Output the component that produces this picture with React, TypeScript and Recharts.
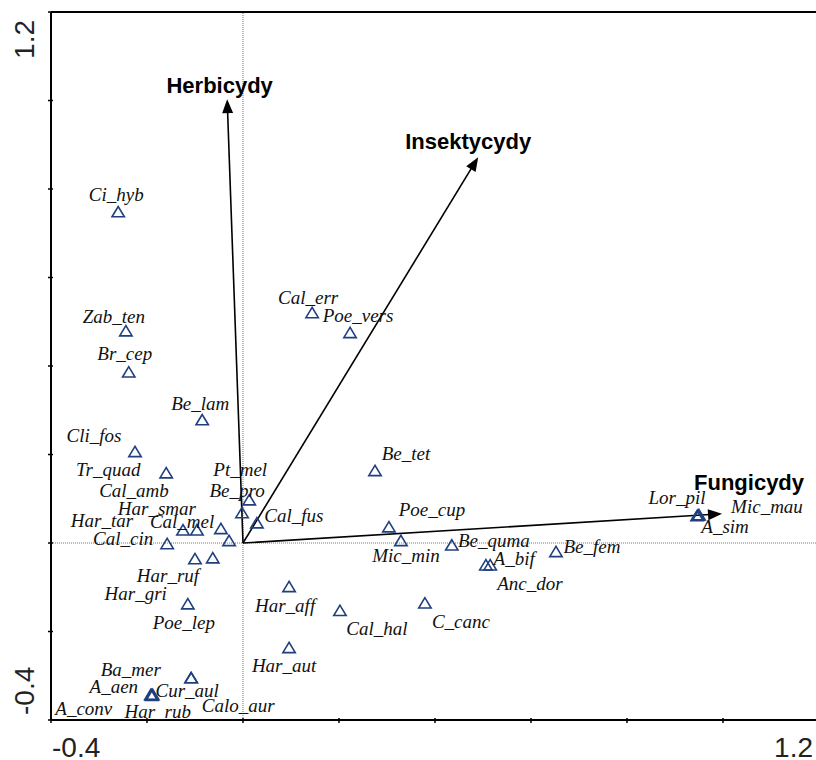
import React from 'react';
import { ScatterChart, Scatter, XAxis, YAxis, ReferenceLine } from 'recharts';

// ---- data ----
const speciesNames = [
  'Ci_hyb', 'Zab_ten', 'Br_cep', 'Be_lam', 'Cli_fos', 'Tr_quad', 'Pt_mel', 'Be_pro', 'Cal_fus',
  'Cal_amb', 'Har_tar', 'Har_smar', 'Cal_mel', 'Cal_cin', 'Har_ruf', 'Har_gri', 'Poe_lep',
  'Cal_err', 'Poe_vers', 'Be_tet', 'Poe_cup', 'Mic_min', 'Be_quma', 'A_bif', 'Anc_dor', 'Be_fem',
  'Lor_pil', 'Mic_mau', 'A_sim', 'Har_aff', 'Har_aut', 'Cal_hal', 'C_canc',
  'Cur_aul', 'Calo_aur', 'Ba_mer', 'A_aen', 'A_conv', 'Har_rub',
];
const speciesX = [
  -0.260, -0.244, -0.238, -0.085, -0.225, -0.160, 0.013, -0.002, 0.029,
  -0.125, -0.096, -0.046, -0.029, -0.158, -0.100, -0.063, -0.115,
  0.144, 0.223, 0.275, 0.304, 0.329, 0.435, 0.515, 0.506, 0.652,
  0.948, 0.950, 0.946, 0.096, 0.096, 0.202, 0.379,
  -0.108, -0.108, -0.190, -0.192, -0.190, -0.188,
];
const speciesY = [
  0.748, 0.479, 0.386, 0.278, 0.206, 0.158, 0.097, 0.068, 0.045,
  0.029, 0.029, 0.032, 0.005, -0.002, -0.036, -0.034, -0.138,
  0.520, 0.475, 0.163, 0.036, 0.005, -0.005, -0.050, -0.050, -0.020,
  0.063, 0.063, 0.061, -0.099, -0.237, -0.153, -0.136,
  -0.305, -0.305, -0.343, -0.343, -0.345, -0.343,
];

const envNames = ['Herbicydy', 'Insektycydy', 'Fungicydy'];
const envX = [-0.033, 0.49, 0.998];
const envY = [1.003, 0.872, 0.066];

const axisTicks = [-0.4, -0.2, 0, 0.2, 0.4, 0.6, 0.8, 1.0, 1.2];
const labelledTickValues = [-0.4, 1.2];
const labelledTickTexts = ['-0.4', '1.2'];

// ---- layout (label offsets in px, relative to the point) ----
const speciesLabelOffsets: Record<string, [number, number]> = {
  Ci_hyb: [-2, -11], Zab_ten: [-12, -8], Br_cep: [-4, -12], Be_lam: [-2, -10],
  Cli_fos: [-41, -10], Tr_quad: [-58, 3], Pt_mel: [-9, -24], Be_pro: [-5, -16],
  Cal_fus: [37, -1], Cal_amb: [-49, -33], Har_tar: [-95, -3], Har_smar: [-64, -14],
  Cal_mel: [-47, -13], Cal_cin: [-44, 1], Har_ruf: [-27, 23], Har_gri: [-77, 42],
  Poe_lep: [-4, 25], Cal_err: [-4, -9], Poe_vers: [8, -11], Be_tet: [31, -11],
  Poe_cup: [43, -11], Mic_min: [5, 21], Be_quma: [42, 2], A_bif: [24, 0],
  Anc_dor: [44, 25], Be_fem: [36, 1], Lor_pil: [-21, -11], Mic_mau: [68, -2],
  A_sim: [28, 17], Har_aff: [-4, 25], Har_aut: [-5, 24], Cal_hal: [37, 24],
  C_canc: [36, 25], Cur_aul: [-4, 19], Calo_aur: [47, 34], Ba_mer: [-21, -19],
  A_aen: [-37, -2], A_conv: [-68, 19], Har_rub: [5, 23],
};
const envLabelOffsets: [number, number][] = [[-7.5, -6], [-10, -8], [27, -24]];

const speciesData = speciesNames.map((name, i) => ({ name, x: speciesX[i], y: speciesY[i] }));

const SANS = '"Liberation Sans", Arial, sans-serif';
const SERIF = '"Liberation Serif", "Times New Roman", Times, serif';
const TRI = '#1f3f7f';

const TriangleShape = (p: any) => {
  const { cx, cy, payload } = p;
  if (cx == null || cy == null || isNaN(cx) || isNaN(cy)) return <g />;
  const off = speciesLabelOffsets[payload.name] || [0, -10];
  const pts = `${cx},${cy - 5.5} ${cx - 6.2},${cy + 4.8} ${cx + 6.2},${cy + 4.8}`;
  return (
    <g>
      <polygon points={pts} fill="none" stroke={TRI} strokeWidth={1.6} strokeLinejoin="miter" />
      <text x={cx + off[0]} y={cy + off[1]} textAnchor="middle"
        style={{ fontFamily: SERIF, fontStyle: 'italic', fontSize: 19 }} fill="#111">{payload.name}</text>
    </g>
  );
};

const makeArrow = (i: number) => (p: any) => {
  const { x1, y1, x2, y2 } = p;
  if ([x1, y1, x2, y2].some((v) => v == null || isNaN(v))) return <g />;
  const dx = x2 - x1;
  const dy = y2 - y1;
  const len = Math.hypot(dx, dy) || 1;
  const ux = dx / len;
  const uy = dy / len;
  const hl = 14;
  const hw = 5.5;
  const bx = x2 - ux * hl;
  const by = y2 - uy * hl;
  const nx = -uy;
  const ny = ux;
  const off = envLabelOffsets[i];
  return (
    <g>
      <line x1={x1} y1={y1} x2={bx + ux * 2} y2={by + uy * 2} stroke="#000" strokeWidth={1.6} />
      <polygon points={`${x2},${y2} ${bx + nx * hw},${by + ny * hw} ${bx - nx * hw},${by - ny * hw}`} fill="#000" />
      <text x={x2 + off[0]} y={y2 + off[1]} textAnchor="middle"
        style={{ fontFamily: SANS, fontWeight: 'bold', fontSize: 22 }} fill="#000">{envNames[i]}</text>
    </g>
  );
};

const findLabel = (v: number) => {
  const idx = labelledTickValues.findIndex((t) => Math.abs(t - v) < 1e-6);
  return idx >= 0 ? { idx, text: labelledTickTexts[idx] } : null;
};

const XTick = (p: any) => {
  const { x, y, payload } = p;
  const lab = findLabel(payload.value);
  return (
    <g>
      <line x1={x} x2={x} y1={y - 2} y2={y + 3} stroke="#000" strokeWidth={1.5} />
      {lab && (
        <text x={lab.idx === 0 ? x + 1 : x - 6} y={y + 37} textAnchor={lab.idx === 0 ? 'start' : 'end'}
          style={{ fontFamily: SANS, fontSize: 28 }} fill="#222">{lab.text}</text>
      )}
    </g>
  );
};

const YTick = (p: any) => {
  const { x, y, payload } = p;
  const lab = findLabel(payload.value);
  const bx = x - 17;
  const by = lab && lab.idx === 0 ? y - 5 : y + 8;
  return (
    <g>
      <line x1={x - 3} x2={x + 2} y1={y} y2={y} stroke="#000" strokeWidth={1.5} />
      {lab && (
        <text x={bx} y={by} transform={`rotate(-90 ${bx} ${by})`} textAnchor={lab.idx === 0 ? 'start' : 'end'}
          style={{ fontFamily: SANS, fontSize: 28 }} fill="#222">{lab.text}</text>
      )}
    </g>
  );
};

export default function App() {
  return (
    <div style={{ position: 'absolute', left: 0, top: 0, width: 816, height: 760, overflow: 'hidden', background: '#fff' }}>
      <ScatterChart width={822} height={760} margin={{ top: 12, right: 3, bottom: 0, left: 0 }}>
        <XAxis type="number" dataKey="x" domain={[-0.4, 1.2]} ticks={axisTicks} height={40}
          tickSize={0} tickMargin={0} tickLine={false} axisLine={{ stroke: '#000', strokeWidth: 2 }}
          tick={<XTick />} interval={0} />
        <YAxis type="number" dataKey="y" domain={[-0.4, 1.2]} ticks={axisTicks} width={51}
          tickSize={0} tickMargin={0} tickLine={false} axisLine={{ stroke: '#000', strokeWidth: 2 }}
          tick={<YTick />} interval={0} />
        <ReferenceLine x={0} stroke="#777" strokeDasharray="1 1" strokeWidth={1} />
        <ReferenceLine y={0} stroke="#777" strokeDasharray="1 1" strokeWidth={1} />
        <ReferenceLine y={1.2} stroke="#000" strokeWidth={2} />
        <ReferenceLine x={1.2} stroke="#000" strokeWidth={2} />
        {envNames.map((n, i) => (
          <ReferenceLine key={n} segment={[{ x: 0, y: 0 }, { x: envX[i], y: envY[i] }]} shape={makeArrow(i)} />
        ))}
        <Scatter data={speciesData} shape={TriangleShape} isAnimationActive={false} />
      </ScatterChart>
    </div>
  );
}
